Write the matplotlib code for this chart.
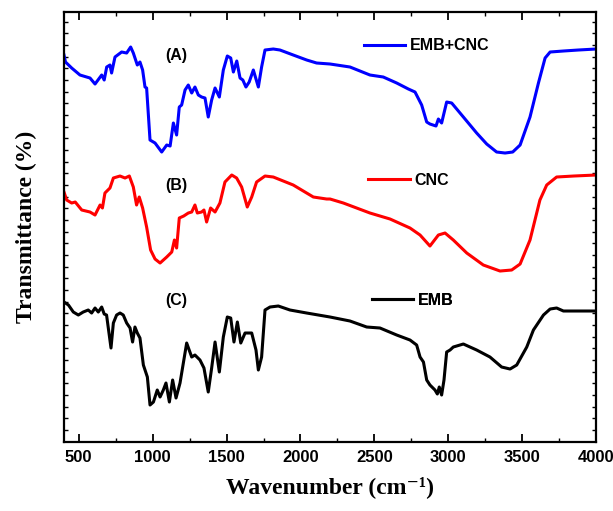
import numpy as np
import matplotlib
matplotlib.use("Agg")
import matplotlib.pyplot as plt
from matplotlib.ticker import MultipleLocator

# FTIR spectra (transmittance in arbitrary, offset units)
wn_a = [400, 410, 452, 508, 576, 610, 655, 672, 689, 711, 722, 745, 790, 824, 851,
        869, 896, 914, 932, 948, 959, 982, 1016, 1061, 1095, 1118, 1140, 1162, 1180,
        1196, 1219, 1241, 1264, 1286, 1309, 1331, 1354, 1376, 1399, 1422, 1451, 1478,
        1505, 1528, 1546, 1569, 1591, 1610, 1631, 1653, 1681, 1715, 1737, 1760, 1816,
        1861, 1951, 2042, 2109, 2200, 2335, 2470, 2560, 2651, 2730, 2775, 2820, 2854,
        2876, 2917, 2933, 2955, 2989, 3023, 3102, 3192, 3260, 3327, 3384, 3436, 3486,
        3553, 3610, 3655, 3689, 3779, 3880, 4000]
t_a = [387, 380, 374, 367, 364, 358, 367, 362, 375, 377, 369, 385, 390, 389, 395,
       389, 377, 380, 372, 355, 354, 302, 299, 290, 297, 296, 319, 307, 335,
       337, 352, 357, 349, 355, 347, 345, 344, 325, 342, 354, 345, 372,
       386, 384, 370, 381, 364, 362, 355, 360, 372, 355, 375, 392, 393,
       392, 387, 382, 379, 378, 375, 367, 365, 359, 353, 350, 337, 320,
       318, 316, 323, 319, 340, 339, 325, 309, 298, 290, 289, 290, 297,
       325, 359, 384, 390, 391, 392, 393]

wn_b = [400, 418, 452, 476, 520, 576, 610, 644, 660, 677, 711, 734, 779, 813, 842,
        869, 891, 909, 932, 959, 986, 1016, 1050, 1095, 1129, 1147, 1162, 1180, 1210,
        1241, 1264, 1286, 1302, 1331, 1347, 1365, 1392, 1422, 1455, 1489, 1535, 1568,
        1602, 1640, 1670, 1703, 1760, 1816, 1951, 2087, 2177, 2200, 2290, 2470, 2606,
        2741, 2809, 2876, 2933, 2978, 3034, 3125, 3237, 3350, 3429, 3486, 3553, 3620,
        3666, 3733, 3850, 4000]
t_b = [250, 242, 239, 240, 232, 230, 227, 237, 234, 249, 254, 264, 266, 264, 266,
       255, 237, 245, 234, 215, 192, 183, 179, 185, 190, 202, 194, 224, 226,
       229, 230, 237, 229, 230, 232, 220, 234, 230, 239, 260, 267, 264,
       255, 235, 245, 260, 266, 265, 257, 245, 243, 243, 239, 229, 223,
       214, 207, 196, 207, 209, 202, 189, 177, 171, 172, 178, 202, 242,
       257, 265, 266, 267]

wn_c = [400, 430, 463, 497, 530, 564, 587, 610, 632, 655, 672, 688, 718, 734, 756,
        779, 801, 824, 847, 864, 880, 896, 914, 937, 964, 982, 1005, 1031, 1050, 1072,
        1090, 1113, 1135, 1158, 1185, 1230, 1264, 1286, 1320, 1347, 1376, 1399, 1422,
        1451, 1478, 1505, 1528, 1550, 1573, 1596, 1625, 1670, 1699, 1715, 1737, 1760,
        1794, 1850, 1929, 2042, 2200, 2335, 2448, 2538, 2651, 2741, 2786, 2809, 2832,
        2854, 2876, 2910, 2926, 2939, 2955, 2971, 2989, 3012, 3034, 3102, 3192, 3282,
        3361, 3418, 3463, 3531, 3576, 3644, 3689, 3733, 3779, 3880, 4000]
t_c = [140, 137, 130, 127, 130, 132, 129, 134, 130, 135, 128, 127, 94, 119, 127,
       129, 127, 119, 114, 100, 115, 109, 104, 77, 65, 37, 40, 52, 45, 52,
       59, 40, 62, 44, 59, 99, 85, 87, 82, 74, 50, 74, 100,
       70, 105, 125, 124, 100, 120, 99, 109, 109, 92, 72, 85, 132,
       135, 136, 132, 129, 125, 121, 115, 114, 107, 102, 97, 85, 80,
       62, 57, 52, 48, 55, 47, 62, 90, 92, 95, 98, 92, 85,
       75, 73, 77, 95, 112, 127, 133, 134, 131, 131, 131]

labels = ["EMB+CNC", "CNC", "EMB"]
colors = ["#0000ff", "#ff0000", "#000000"]
panel_tags = ["(A)", "(B)", "(C)"]
tag_y = [387, 257, 142]

fig = plt.figure(figsize=(6.13, 5.11), dpi=100)
ax = fig.add_axes([0.1044, 0.135, 0.868, 0.8415])

series = [(wn_a, t_a), (wn_b, t_b), (wn_c, t_c)]
lines = []
for (x, y), c, lab in zip(series, colors, labels):
    ln, = ax.plot(x, y, color=c, lw=2.2, label=lab, solid_joinstyle="round")
    lines.append(ln)

for tag, ty in zip(panel_tags, tag_y):
    ax.text(1160, ty, tag, ha="center", va="center", fontsize=11.5,
            fontweight="bold", family="Liberation Sans")

# one little legend per curve, placed next to each spectrum
legend_pos = [(0.536, 0.921), (0.545, 0.609), (0.551, 0.330)]
for ln, pos in zip(lines, legend_pos):
    leg = ax.legend(handles=[ln], loc="center left", bbox_to_anchor=pos,
                    frameon=False, handlelength=2.6, handletextpad=0.3,
                    prop={"family": "Liberation Sans", "weight": "bold", "size": 11.5})
    ax.add_artist(leg)

ax.set_xlim(400, 4000)
ax.set_ylim(0, 430)
ax.xaxis.set_major_locator(MultipleLocator(500))
ax.xaxis.set_minor_locator(MultipleLocator(250))
ax.set_yticks(np.arange(12, 425, 11.67))
ax.set_yticklabels([])

ax.tick_params(axis="x", which="major", direction="in", length=6, width=1.3,
               top=True, labelsize=12, pad=6)
ax.tick_params(axis="x", which="minor", direction="in", length=3, width=1.0, top=True)
ax.tick_params(axis="y", which="major", direction="in", length=3, width=1.0, right=True)
for lbl in ax.get_xticklabels():
    lbl.set_fontweight("bold")
    lbl.set_family("Liberation Sans")

for sp in ax.spines.values():
    sp.set_linewidth(1.6)

ax.set_xlabel("Wavenumber (cm\u207b\u00b9)", fontsize=17, fontweight="bold",
              family=["Liberation Serif", "DejaVu Serif"], labelpad=8)
ax.set_ylabel("Transmittance (%)", fontsize=17, fontweight="bold",
              family="Liberation Serif", labelpad=16)

fig.savefig("out.png", dpi=100)
